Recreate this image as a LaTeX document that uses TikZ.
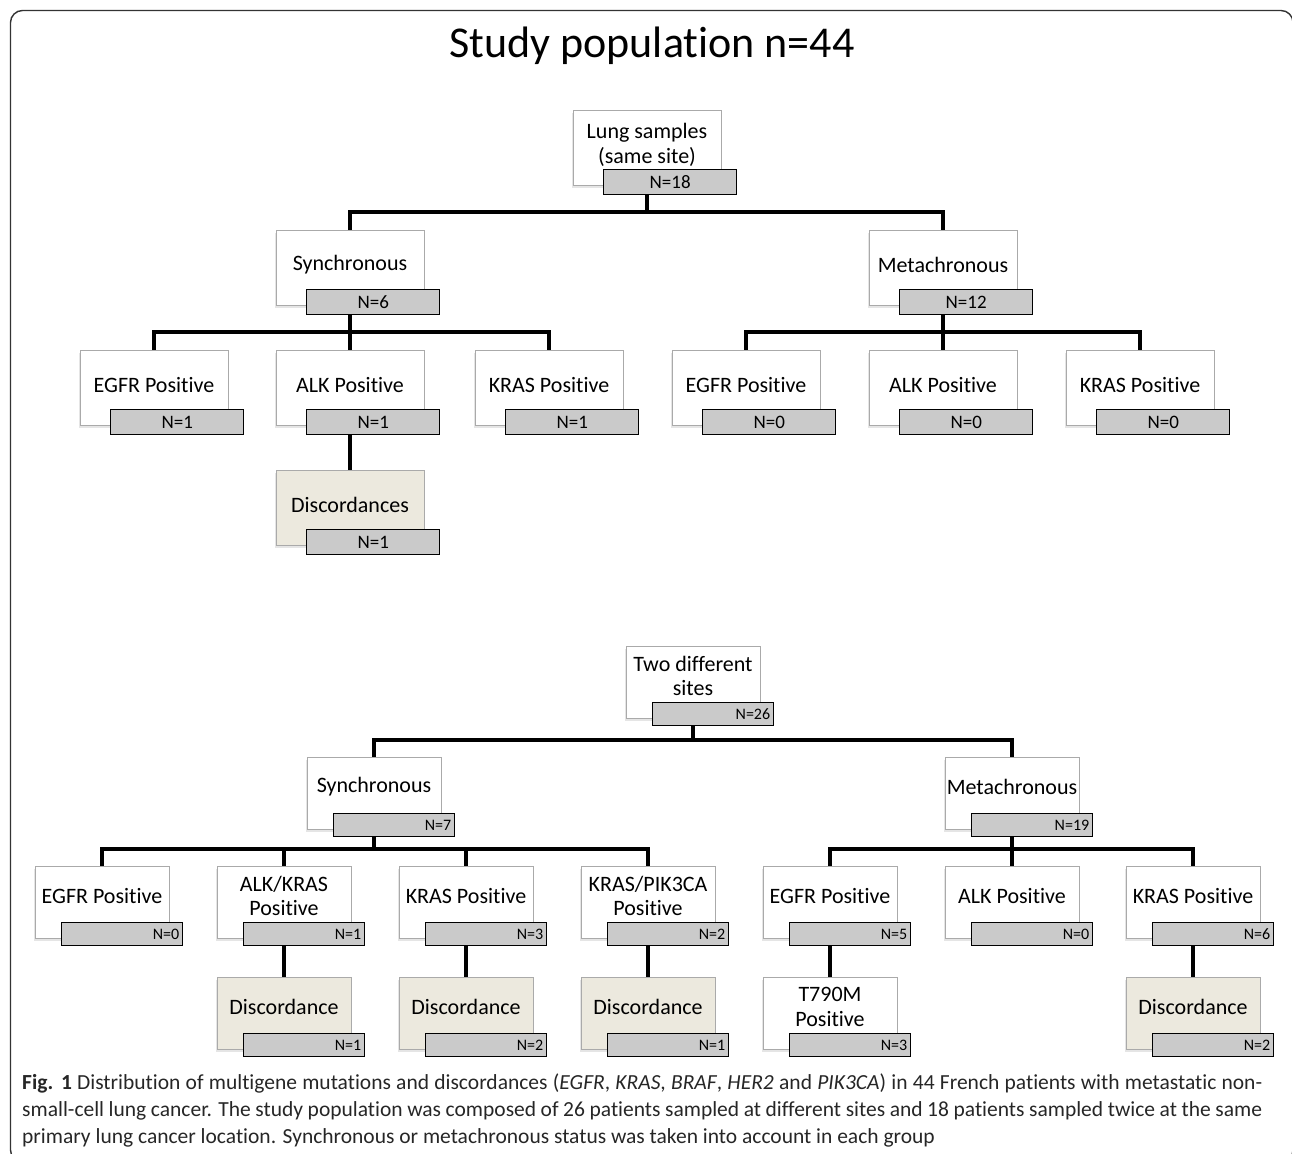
\documentclass[tikz,border=0pt]{standalone}
\usepackage{fontspec}
\setmainfont{Carlito}[Ligatures=NoCommon]
\newfontfamily\capfont{Carlito}[Ligatures=NoCommon]
\usetikzlibrary{shadows,calc}
\definecolor{nfill}{RGB}{202,202,202}
\definecolor{beige}{RGB}{236,233,222}
\definecolor{wborder}{RGB}{170,170,170}
\tikzset{
  wbox/.style={draw=wborder, line width=0.8pt, inner sep=0pt,
    drop shadow={shadow xshift=-1.5pt, shadow yshift=-3pt, opacity=0.25, fill=black!40}},
  btxt/.style={align=center, inner sep=0pt, font=\fontsize{22}{24.5}\selectfont},
  nbox/.style={draw=black, line width=1.4pt, fill=nfill, inner ysep=0pt, inner xsep=5pt},
  conn/.style={line width=4.5pt, black},
}
% top-tree box: name, centre x, top y, text, N label, fill
\newcommand\tbox[6]{%
  \node[wbox, fill=#6, minimum width=148pt, minimum height=75pt, anchor=north] (#1) at (#2,#3) {};
  \node[btxt] (#1t) at ($(#1.north)+(0,35)$) {#4};
  \node[nbox, text width=123pt, align=center, minimum height=25pt, anchor=north west,
        font=\fontsize{19}{21}\selectfont] (#1n) at ($(#1.north)+(-44,59)$) {#5};
}
% bottom-tree box
\newcommand\bbox[6]{%
  \node[wbox, fill=#6, minimum width=134pt, minimum height=72pt, anchor=north] (#1) at (#2,#3) {};
  \node[btxt] (#1t) at ($(#1.north)+(0,30)$) {#4};
  \node[nbox, text width=114pt, align=right, minimum height=23pt, inner xsep=3.5pt, anchor=north west,
        font=\fontsize{16}{18}\selectfont] (#1n) at ($(#1.north)+(-41,56)$) {#5};
}
\begin{document}
\begin{tikzpicture}[x=1pt,y=-1pt]
\useasboundingbox (0,0) rectangle (1292,1153);
\begin{scope}
\clip (0,0) rectangle (1292,1153);
\draw[line width=1.4pt, black!80, rounded corners=12pt] (10.5,10.5) rectangle (1293,1162);
\end{scope}

\node[font=\fontsize{44}{50}\selectfont, inner sep=0pt] (title) at (652,46) {Study population n=44};

% ---------- connectors (top tree) ----------
\coordinate (rA) at (647,110);
\coordinate (sA) at (350,230);
\coordinate (mA) at (943,230);
\draw[conn] (rA |- 0,194) -- (rA |- 0,212) -| (sA);
\draw[conn] (rA |- 0,212) -| (mA);
\foreach \c in {154,350,549} \draw[conn] (350,314) -- (350,332) -| (\c,350);
\foreach \c in {746,943,1140} \draw[conn] (943,314) -- (943,332) -| (\c,350);
\draw[conn] (350,434) -- (350,470);

% ---------- connectors (bottom tree) ----------
\draw[conn] (693,723) -- (693,740) -| (374,757);
\draw[conn] (693,740) -| (1012,757);
\foreach \c in {102,284,466,648} \draw[conn] (374,834) -- (374,849) -| (\c,866);
\foreach \c in {830,1012,1193} \draw[conn] (1012,834) -- (1012,849) -| (\c,866);
\foreach \c in {284,466,648,830,1193} \draw[conn] (\c,945) -- (\c,977);

% ---------- top tree ----------
\tbox{lung}{647}{110}{Lung samples\\(same site)}{N=18}{white}
\tbox{syn}{350}{230}{Synchronous}{N=6}{white}
\tbox{met}{943}{230}{Metachronous}{N=12}{white}
\tbox{se}{154}{350}{EGFR Positive}{N=1}{white}
\tbox{sa}{350}{350}{ALK Positive}{N=1}{white}
\tbox{sk}{549}{350}{KRAS Positive}{N=1}{white}
\tbox{me}{746}{350}{EGFR Positive}{N=0}{white}
\tbox{ma}{943}{350}{ALK Positive}{N=0}{white}
\tbox{mk}{1140}{350}{KRAS Positive}{N=0}{white}
\tbox{sd}{350}{470}{Discordances}{N=1}{beige}

% ---------- bottom tree ----------
\bbox{two}{693}{646}{Two different\\sites}{N=26}{white}
\bbox{bsyn}{374}{757}{Synchronous}{N=7}{white}
\bbox{bmet}{1012}{757}{Metachronous}{N=19}{white}
\bbox{be}{102}{866}{EGFR Positive}{N=0}{white}
\bbox{bak}{284}{866}{ALK/KRAS\\Positive}{N=1}{white}
\bbox{bk}{466}{866}{KRAS Positive}{N=3}{white}
\bbox{bkp}{648}{866}{KRAS/PIK3CA\\Positive}{N=2}{white}
\bbox{bme}{830}{866}{EGFR Positive}{N=5}{white}
\bbox{bma}{1012}{866}{ALK Positive}{N=0}{white}
\bbox{bmk}{1193}{866}{KRAS Positive}{N=6}{white}
\bbox{d1}{284}{977}{Discordance}{N=1}{beige}
\bbox{d2}{466}{977}{Discordance}{N=2}{beige}
\bbox{d3}{648}{977}{Discordance}{N=1}{beige}
\bbox{t790}{830}{977}{T790M\\Positive}{N=3}{white}
\bbox{d4}{1193}{977}{Discordance}{N=2}{beige}

% ---------- caption ----------
\tikzset{captxt/.style={anchor=base west, inner sep=0pt, text=black!85, font=\capfont\fontsize{21.5}{25}\selectfont}}
\node[captxt] (cap1) at (22,1089) {\makebox[1240pt][s]{\textbf{Fig. 1} Distribution of multigene mutations and discordances (\textit{EGFR}, \textit{KRAS}, \textit{BRAF}, \textit{HER2} and \textit{PIK3CA}) in 44 French patients with metastatic non-}};
\node[captxt] (cap2) at (22,1116) {\makebox[1240pt][s]{small-cell lung cancer. The study population was composed of 26 patients sampled at different sites and 18 patients sampled twice at the same}};
\node[captxt] (cap3) at (22,1143) {primary lung cancer location. Synchronous or metachronous status was taken into account in each group};
\end{tikzpicture}
\end{document}
